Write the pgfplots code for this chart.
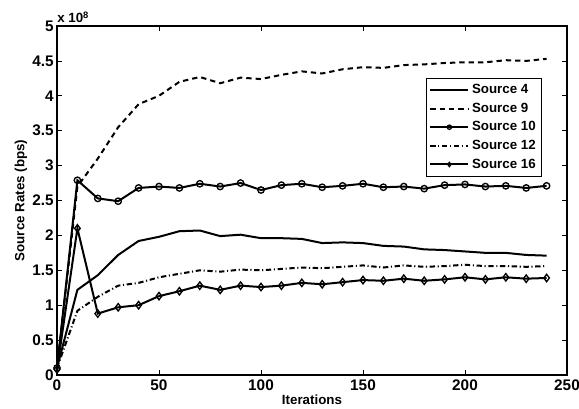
\documentclass[border=0pt]{standalone}
\usepackage{fontspec}
\setmainfont{Liberation Sans}
\usepackage{pgfplots}
\pgfplotsset{compat=1.18}
\usetikzlibrary{calc}

\pgfplotstableread{
it   s4    s9    s10   s12   s16
0    0.10  0.10  0.10  0.10  0.08
10   1.22  2.70  2.79  0.92  2.10
20   1.43  3.10  2.53  1.12  0.88
30   1.72  3.55  2.49  1.28  0.97
40   1.92  3.88  2.68  1.32  1.00
50   1.98  4.00  2.70  1.40  1.13
60   2.06  4.20  2.68  1.45  1.20
70   2.07  4.27  2.74  1.50  1.28
80   1.99  4.18  2.70  1.48  1.22
90   2.01  4.26  2.75  1.51  1.28
100  1.96  4.24  2.65  1.50  1.26
110  1.96  4.30  2.72  1.52  1.28
120  1.95  4.35  2.74  1.54  1.32
130  1.89  4.32  2.69  1.53  1.30
140  1.90  4.38  2.71  1.55  1.33
150  1.89  4.41  2.74  1.57  1.36
160  1.85  4.40  2.69  1.54  1.35
170  1.84  4.44  2.70  1.57  1.38
180  1.80  4.45  2.67  1.55  1.35
190  1.79  4.47  2.72  1.56  1.37
200  1.77  4.48  2.73  1.58  1.40
210  1.75  4.48  2.70  1.56  1.37
220  1.75  4.51  2.71  1.56  1.40
230  1.72  4.50  2.68  1.55  1.38
240  1.71  4.53  2.71  1.56  1.39
}\rates

\begin{document}
\begin{tikzpicture}
\begin{axis}[
  scale only axis,
  width=382.5pt, height=261.75pt,
  xmin=0, xmax=250, ymin=0, ymax=5,
  xtick={0,50,...,250},
  ytick={0,0.5,...,5},
  yticklabels={0,0.5,1,1.5,2,2.5,3,3.5,4,4.5,5},
  tick align=inside,
  major tick length=4pt,
  axis line style={line width=0.9pt},
  every tick/.style={line width=0.6pt, black},
  tick label style={font=\fontsize{11.5}{13}\selectfont\bfseries},
  /pgf/number format/assume math mode=true,
  xticklabel style={yshift=0pt},
  yticklabel style={xshift=1pt},
  xlabel={Iterations},
  ylabel={Source Rates (bps)},
  label style={font=\fontsize{10}{12}\selectfont\bfseries},
  xlabel style={yshift=4pt},
  ylabel style={yshift=-3pt},
  legend cell align=left,
  legend style={at={(0.951,0.851)}, anchor=north east,
    font=\fontsize{10}{12}\selectfont\bfseries, draw=black,
    inner sep=2.5pt, row sep=1.5pt},
  legend image code/.code={
    \draw[line width=1.5pt, mark repeat=2, mark phase=2, mark size=1.6pt]
      plot coordinates {(0cm,0cm) (0.5cm,0cm) (1.0cm,0cm)};},
]
\addplot[black, line width=1.5pt, no marks] table[x=it,y=s4] {\rates};
\addplot[black, line width=1.5pt, no marks, dash pattern=on 4pt off 3pt] table[x=it,y=s9] {\rates};
\addplot[black, line width=1.5pt, mark=o, mark size=2.4pt, mark options={solid, line width=1pt}] table[x=it,y=s10] {\rates};
\addplot[black, line width=1.5pt, no marks, dash pattern=on 4pt off 2pt on 0.8pt off 2pt] table[x=it,y=s12] {\rates};
\addplot[black, line width=1.5pt, mark=diamond, mark size=2.8pt, mark options={solid, line width=1pt}] table[x=it,y=s16] {\rates};
\legend{Source 4,Source 9,Source 10,Source 12,Source 16}
\end{axis}
\draw[line width=0.8pt] (current axis.south west) rectangle (current axis.north east);
\node[anchor=south west, inner sep=0pt, yshift=2pt,
  font=\fontsize{10}{12}\selectfont\bfseries]
  at (current axis.north west) {x 10\textsuperscript{8}};
\pgfresetboundingbox
\path[use as bounding box] ($(current axis.south west)+(-42.75pt,-24.75pt)$)
  rectangle ($(current axis.north east)+(9pt,19.5pt)$);
\end{tikzpicture}
\end{document}
